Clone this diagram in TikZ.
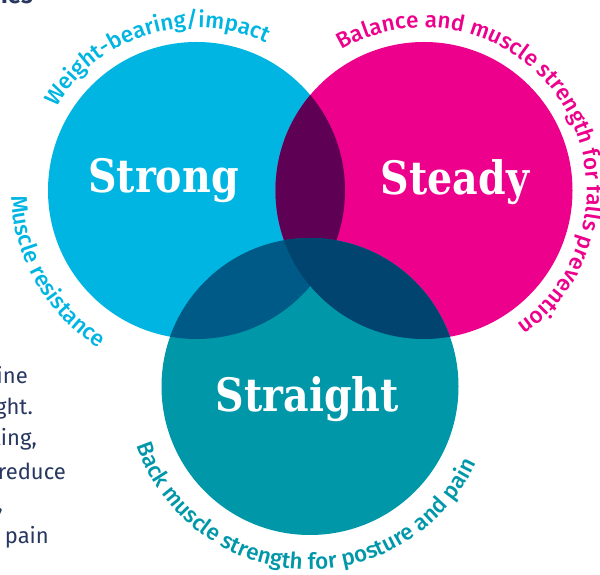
\documentclass[tikz,border=0pt]{standalone}
\usepackage{fontspec}
\setmainfont{Fira Sans}
\newfontfamily\arcfont{Fira Sans Medium}
\newfontfamily\slabfont{DejaVu Serif}[FakeStretch=0.86]
\usetikzlibrary{decorations.text}
\definecolor{strongblue}{HTML}{00B5E2}
\definecolor{steadypink}{HTML}{EC008C}
\definecolor{straightteal}{HTML}{0097A9}
\definecolor{strongsteady}{HTML}{5E0054}
\definecolor{strongstraight}{HTML}{005A87}
\definecolor{steadystraight}{HTML}{00446F}
\definecolor{allthree}{HTML}{1C3E6B}
\definecolor{bodynavy}{HTML}{27375F}
\newcommand{\arcsize}{\arcfont\fontsize{22.5}{22.5}\selectfont}

\begin{document}
\begin{tikzpicture}[x=1pt,y=1pt,
  word/.style={text=white,font=\slabfont\bfseries\fontsize{46}{46}\selectfont,anchor=base},
  side/.style={text=bodynavy,font=\fontsize{22}{22}\selectfont,inner sep=0pt,anchor=base east}]
\useasboundingbox (0,0) rectangle (600,575);
\clip (0,0) rectangle (600,575);

\coordinate (strongmid) at (196.5,384.5);
\coordinate (steadymid) at (424,384.5);
\coordinate (straightmid) at (310,188.5);

\fill[strongblue] (strongmid) circle (148.5);
\fill[steadypink] (steadymid) circle (148.5);
\fill[straightteal] (straightmid) circle (148.5);
\begin{scope}
  \clip (strongmid) circle (148.5);
  \fill[strongsteady] (steadymid) circle (148.5);
  \fill[strongstraight] (straightmid) circle (148.5);
  \clip (steadymid) circle (148.5);
  \fill[allthree] (straightmid) circle (148.5);
\end{scope}
\begin{scope}
  \clip (steadymid) circle (148.5);
  \fill[steadystraight] (straightmid) circle (148.5);
\end{scope}

\node[word] (strong) at (163.5,382) {Strong};
\node[word] (steady) at (455,380) {Steady};
\node[word] (straight) at (307.5,163) {Straight};

% words round the circles
\path[shift={(strongmid)},decorate,decoration={text along path,text align=center,text color=strongblue,
  text={|\arcsize|Weight-bearing/impact}}] (155:163) arc[start angle=155,end angle=59,radius=163];
\path[shift={(strongmid)},decorate,decoration={text along path,text align=center,text color=strongblue,
  text={|\arcsize|Muscle resistance}}] (172:185) arc[start angle=172,end angle=248,radius=185];
\path[shift={(steadymid)},decorate,decoration={text along path,text align=center,text color=steadypink,
  text={|\arcsize|Balance and muscle strength for falls prevention}}] (125:163) arc[start angle=125,end angle=-60,radius=163];
\path[shift={(straightmid)},decorate,decoration={text along path,text align=center,text color=straightteal,
  text={|\arcsize|Back muscle strength for posture and pain}}] (190:183) arc[start angle=190,end angle=344,radius=183];

\node[side,font=\bfseries\fontsize{24}{24}\selectfont] (heading) at (33,571) {ies};
\node[side] (line1) at (28,191) {ine};
\node[side] (line2) at (33,160) {ght.};
\node[side] (line3) at (37,129) {ling,};
\node[side] (line4) at (66,95) {reduce};
\node[side] (line5) at (3,63) {,};
\node[side] (line6) at (49,31) {pain};
\end{tikzpicture}
\end{document}
